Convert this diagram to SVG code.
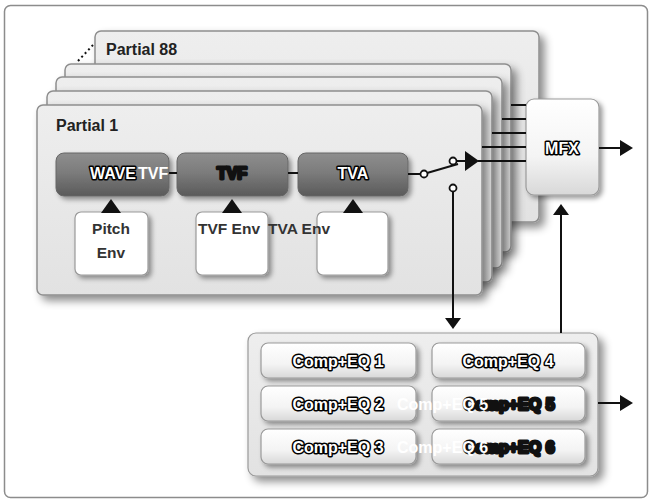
<svg xmlns="http://www.w3.org/2000/svg" width="651" height="501" viewBox="0 0 651 501">
<defs>
<filter id="sh" x="-10%" y="-10%" width="130%" height="130%">
<feDropShadow dx="5" dy="5" stdDeviation="4" flood-color="#000" flood-opacity="0.45"/>
</filter>
<filter id="shs" x="-10%" y="-10%" width="130%" height="140%">
<feDropShadow dx="3" dy="3" stdDeviation="2.5" flood-color="#000" flood-opacity="0.4"/>
</filter>
<linearGradient id="dark" x1="0" y1="0" x2="0" y2="1">
<stop offset="0" stop-color="#8e8e8e"/>
<stop offset="0.45" stop-color="#7c7c7c"/>
<stop offset="1" stop-color="#5a5a5a"/>
</linearGradient>
<linearGradient id="light" x1="0" y1="0" x2="0" y2="1">
<stop offset="0" stop-color="#ffffff"/>
<stop offset="0.6" stop-color="#f4f4f4"/>
<stop offset="1" stop-color="#d8d8d8"/>
</linearGradient>
<linearGradient id="panelg" x1="0" y1="0" x2="0" y2="1">
<stop offset="0" stop-color="#eeeeee"/>
<stop offset="1" stop-color="#e2e2e2"/>
</linearGradient>
</defs>
<style>
.panel{fill:url(#panelg);stroke:#8e8e8e;stroke-width:1.5;filter:url(#sh)}
.blk{fill:url(#dark);stroke:#666;stroke-width:1;filter:url(#shs)}
.env{fill:#fff;stroke:#999;stroke-width:1.2;filter:url(#shs)}
.btn{fill:url(#light);stroke:#9a9a9a;stroke-width:1.2;filter:url(#shs)}
.t{font-family:"Liberation Sans",Arial,sans-serif;font-weight:bold;font-size:16px}
.lbl{fill:#222}
.envt{fill:#333;font-size:15.5px}
.out{fill:#fff;stroke:#000;stroke-width:3;stroke-linejoin:round;paint-order:stroke}
.blob{fill:#111;stroke:#111;stroke-width:3;stroke-linejoin:round}
.wht{fill:#fff}
.ln{stroke:#111;stroke-width:2;fill:none}
.ah{fill:#111}
.sw{fill:#fff;stroke:#111;stroke-width:1.8}
</style>
<rect x="4.5" y="5.5" width="643" height="492" rx="6" fill="#fff" stroke="#8c8c8c" stroke-width="1.5"/>

<g id="partial-88">
<rect class="panel" x="95" y="31" width="444" height="191" rx="6"/>
<text class="t lbl" x="106" y="55">Partial 88</text>
</g>
<g id="partial-stack">
<rect class="panel" x="65" y="64" width="446" height="188" rx="6"/>
<rect class="panel" x="56" y="77" width="446" height="191" rx="6"/>
<rect class="panel" x="47" y="91" width="445" height="191" rx="6"/>
</g>
<g id="partial-1">
<rect class="panel" x="37" y="105" width="445" height="190" rx="6"/>
<text class="t lbl" x="56" y="131">Partial 1</text>
</g>

<g id="wave">
<rect class="blk" x="56" y="153" width="113" height="43" rx="8"/>
<text class="t out" x="90" y="179">WAVE</text>
</g>
<g id="tvf">
<rect class="blk" x="177" y="153" width="111" height="43" rx="8"/>
<text class="t blob" x="232" y="179" text-anchor="middle">TVF</text>
</g>
<g id="tva">
<rect class="blk" x="298" y="153" width="110" height="43" rx="8"/>
<text class="t out" x="353" y="179" text-anchor="middle">TVA</text>
</g>
<text class="t wht" x="138" y="179">TVF</text>

<g id="pitch-env">
<rect class="env" x="75" y="212" width="73" height="63" rx="6"/>
<text class="t envt" x="111" y="234" text-anchor="middle">Pitch</text>
<text class="t envt" x="111" y="258" text-anchor="middle">Env</text>
</g>
<g id="tvf-env">
<rect class="env" x="196" y="212" width="72" height="63" rx="6"/>
</g>
<g id="tva-env">
<rect class="env" x="317" y="212" width="71" height="63" rx="6"/>
</g>
<text class="t envt" x="198" y="234">TVF Env</text>
<text class="t envt" x="268" y="234">TVA Env</text>

<g id="mfx">
<rect class="btn" x="526" y="99" width="73" height="96" rx="8" filter="url(#sh)"/>
<text class="t out" x="562" y="154" text-anchor="middle">MFX</text>
</g>

<g id="comp-eq">
<rect x="248" y="333" width="350" height="143" rx="8" fill="url(#panelg)" stroke="#999" stroke-width="1.2" filter="url(#sh)"/>
<g id="comp-eq-1"><rect class="btn" x="261" y="343" width="155" height="35" rx="7"/><text class="t out" x="338" y="367" text-anchor="middle">Comp+EQ 1</text></g>
<g id="comp-eq-2"><rect class="btn" x="261" y="386" width="155" height="35" rx="7"/><text class="t out" x="338" y="410" text-anchor="middle">Comp+EQ 2</text></g>
<g id="comp-eq-3"><rect class="btn" x="261" y="429" width="155" height="35" rx="7"/><text class="t out" x="338" y="453" text-anchor="middle">Comp+EQ 3</text></g>
<g id="comp-eq-4"><rect class="btn" x="432" y="343" width="153" height="35" rx="7"/><text class="t out" x="508" y="367" text-anchor="middle">Comp+EQ 4</text></g>
<g id="comp-eq-5"><rect class="btn" x="432" y="386" width="153" height="35" rx="7"/><text class="t blob" x="509" y="410" text-anchor="middle">Comp+EQ 5</text></g>
<g id="comp-eq-6"><rect class="btn" x="432" y="429" width="153" height="35" rx="7"/><text class="t blob" x="509" y="453" text-anchor="middle">Comp+EQ 6</text></g>
<text class="t wht" x="397" y="410">Comp+EQ 5</text>
<text class="t wht" x="397" y="453">Comp+EQ 6</text>
</g>

<g id="connectors">
<line class="ln" x1="78" y1="61" x2="93" y2="45" stroke-dasharray="2 3" stroke="#555"/>
<line class="ln" x1="169" y1="173" x2="177" y2="173"/>
<line class="ln" x1="288" y1="173" x2="298" y2="173"/>
<polygon class="ah" points="101,213 121,213 111,199"/>
<polygon class="ah" points="222,213 242,213 232,199"/>
<polygon class="ah" points="343,213 363,213 353,199"/>
<line class="ln" x1="408" y1="174" x2="421" y2="174"/>
<line class="ln" x1="427" y1="173" x2="458" y2="164"/>
<line class="ln" x1="456" y1="161" x2="467" y2="161"/>
<polygon class="ah" points="465,151 465,171 479,161"/>
<line class="ln" x1="478" y1="161" x2="526" y2="161"/>
<line class="ln" x1="482" y1="147" x2="526" y2="147"/>
<line class="ln" x1="492" y1="133" x2="526" y2="133"/>
<line class="ln" x1="502" y1="119" x2="526" y2="119"/>
<line class="ln" x1="511" y1="105" x2="526" y2="105"/>
<circle class="sw" cx="424" cy="174" r="3.5"/>
<circle class="sw" cx="453" cy="161" r="3.5"/>
<circle class="sw" cx="453" cy="188" r="3.5"/>
<line class="ln" x1="453" y1="191.5" x2="453" y2="320"/>
<polygon class="ah" points="445,318 461,318 453,329"/>
<line class="ln" x1="561" y1="213" x2="561" y2="333"/>
<polygon class="ah" points="553,215 569,215 561,204"/>
<line class="ln" x1="599" y1="148" x2="621" y2="148"/>
<polygon class="ah" points="620,140 620,156 633,148"/>
<line class="ln" x1="598" y1="403" x2="621" y2="403"/>
<polygon class="ah" points="620,395 620,411 633,403"/>
</g>
</svg>
